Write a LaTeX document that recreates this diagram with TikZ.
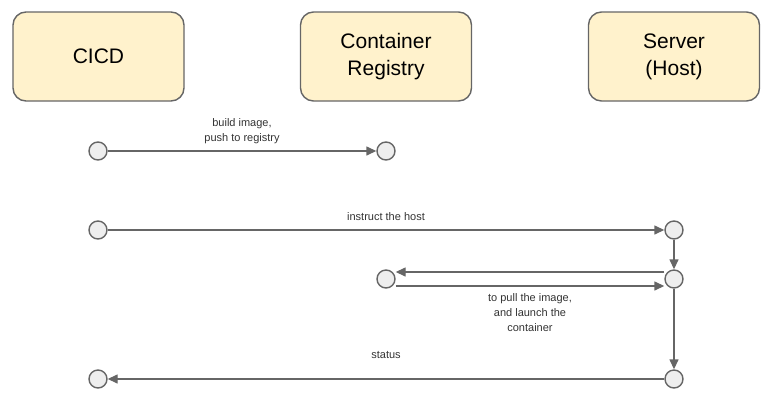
\documentclass[tikz,border=0pt]{standalone}
\usepackage{fontspec}
\setmainfont{Liberation Sans}
\usetikzlibrary{arrows.meta, positioning}
\definecolor{cfill}{HTML}{FFF2CC}
\definecolor{cdot}{HTML}{EEEEEE}
\definecolor{cline}{HTML}{666666}
\definecolor{ctext}{HTML}{333333}
\tikzset{
  every picture/.style={line width=1.4pt},
  actor/.style={draw=cline, fill=cfill, rounded corners=13pt, align=center, minimum width=171pt, minimum height=89pt, font=\fontsize{21}{27}\selectfont},
  dot/.style={circle, draw=cline, fill=cdot, minimum size=18pt, inner sep=0pt},
  arrow/.style={-{Triangle[length=10pt, width=9pt]}, draw=cline},
  msg/.style={font=\fontsize{11}{15}\selectfont, text=ctext, align=center},
}

\begin{document}
\begin{tikzpicture}[x=1pt, y=-1pt]
  \useasboundingbox (0,0) rectangle (773,413);
  \node[actor] (cicd) at (98.5,56.5) {CICD};
  \node[actor] (reg) at (386,56.5) {Container\\Registry};
  \node[actor] (srv) at (674,56.5) {Server\\(Host)};
  % lifeline points
  \node[dot] (c1) at (98,151) {};
  \node[dot] (r1) at (386,151) {};
  \node[dot] (c2) at (98,230) {};
  \node[dot] (s2) at (674,230) {};
  \node[dot] (r3) at (386,279) {};
  \node[dot] (s3) at (674,279) {};
  \node[dot] (c4) at (98,379) {};
  \node[dot] (s4) at (674,379) {};
  % messages
  \draw[arrow] (c1) -- node[msg, above=3pt] {build image,\\push to registry} (r1);
  \draw[arrow] (c2) -- node[msg, above=5pt] {instruct the host} (s2);
  \draw[arrow] (s2) -- (s3);
  \draw[arrow] ([yshift=7pt]s3.west) -- ([yshift=7pt]r3.east);
  \draw[arrow] ([yshift=-7pt]r3.east) -- node[msg, below=3pt] {to pull the image,\\and launch the\\container} ([yshift=-7pt]s3.west);
  \draw[arrow] (s3) -- (s4);
  \draw[arrow] (s4) -- node[msg, above=16pt] {status} (c4);
\end{tikzpicture}
\end{document}
